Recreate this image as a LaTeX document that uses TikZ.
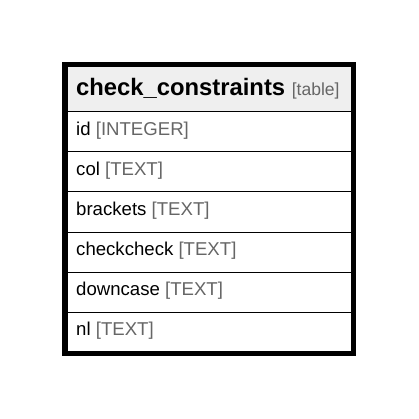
\documentclass[tikz,border=0pt]{standalone}
\usepackage{fontspec}
\setmainfont{Liberation Sans}
\definecolor{hdrfill}{HTML}{EFEFEF}
\definecolor{typegrey}{HTML}{666666}
\tikzset{
  rowbox/.style={draw=black, line width=1pt},
  rowtext/.style={anchor=west, inner sep=0pt, font=\fontsize{18.6}{21}\selectfont},
  hdrtext/.style={anchor=west, inner sep=0pt},
}
\newcommand{\ty}[1]{\textcolor{typegrey}{#1}}
\begin{document}
\begin{tikzpicture}[x=1pt,y=-1pt]
\useasboundingbox (0,0) rectangle (419,419);
\fill[white] (0,0) rectangle (419,419);
% header
\filldraw[rowbox, fill=hdrfill] (67,67) rectangle (351,112);
\foreach \i in {0,...,5} {
  \draw[rowbox] (67,112+40*\i) rectangle (351,152+40*\i);
}
\draw[line width=5pt] (64.5,64.5) rectangle (353.5,353.5);
\node[hdrtext] (title) at (76,89) {\fontsize{23.8}{27}\selectfont\bfseries check\_constraints \fontsize{17.5}{20}\mdseries\selectfont\ty{[table]}};
\node[rowtext] (r1) at (76,131) {id \ty{[INTEGER]}};
\node[rowtext] (r2) at (76,171) {col \ty{[TEXT]}};
\node[rowtext] (r3) at (76,211) {brackets \ty{[TEXT]}};
\node[rowtext] (r4) at (76,251) {checkcheck \ty{[TEXT]}};
\node[rowtext] (r5) at (76,291) {downcase \ty{[TEXT]}};
\node[rowtext] (r6) at (76,331) {nl \ty{[TEXT]}};
\end{tikzpicture}
\end{document}
